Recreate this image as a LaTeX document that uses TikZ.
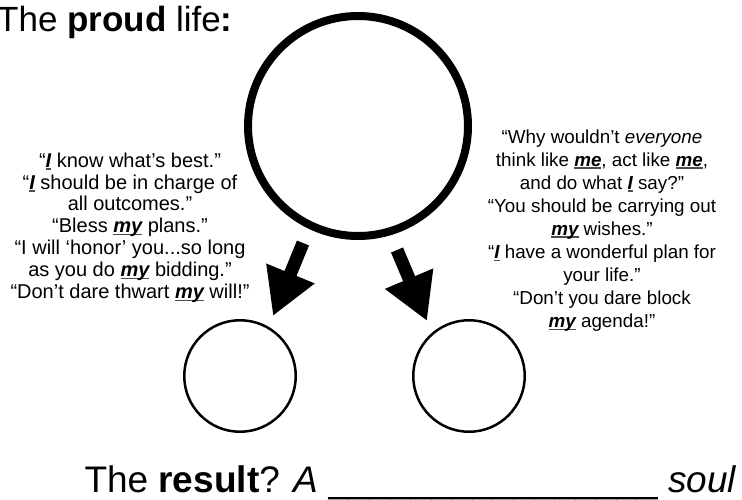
\documentclass[tikz,border=0pt]{standalone}
\usepackage{fontspec}
\setmainfont{Liberation Sans}
\usetikzlibrary{arrows.meta}
\newcommand{\selfw}[1]{\sbox0{\bfseries\itshape #1}\rlap{\color{black!70}\rule[-0.13em]{\wd0}{0.08em}}\usebox0}

\begin{document}
\begin{tikzpicture}[x=1pt, y=-1pt,
  ring/.style={draw=black, circle, inner sep=0pt, minimum size=#1},
  quote/.style={align=center, inner sep=0pt, anchor=north},
  push/.style={line width=13pt, -{Triangle[length=46pt, width=49pt]}}]
\useasboundingbox[fill=white] (0,0) rectangle (742,500);
\node[anchor=base west, inner sep=0pt, font=\fontsize{35}{40}\selectfont] (title) at (-3,32) {The \textbf{proud} life\textbf{:}};
\node[ring=220pt, line width=8pt] (proud) at (358,126) {};
\node[ring=111.5pt, line width=2.5pt] (lsoul) at (240,376) {};
\node[ring=111.5pt, line width=2.5pt] (rsoul) at (469,376) {};
\node[quote, font=\fontsize{20}{21.9}\selectfont] (lquote) at (130,152.5) {“\selfw{I} know what’s best.”\\
“\selfw{I} should be in charge of\\
all outcomes.”\\
“Bless \selfw{my} plans.”\\
“I will ‘honor’ you...so long\\
as you do \selfw{my} bidding.”\\
“Don’t dare thwart \selfw{my} will!”};
\node[quote, font=\fontsize{18.8}{23.1}\selectfont] (rquote) at (602,129.3) {“Why wouldn’t \textit{everyone}\\
think like \selfw{me}, act like \selfw{me},\\
and do what \selfw{I} say?”\\
“You should be carrying out\\
\selfw{my} wishes.”\\
“\selfw{I} have a wonderful plan for\\
your life.”\\
“Don’t you dare block\\
\selfw{my} agenda!”};
\coordinate (ltail) at (303,243);
\coordinate (ltip) at (273,316);
\coordinate (rtail) at (397,250);
\coordinate (rtip) at (427,321);
\draw[push] (ltail) -- (ltip);
\draw[push] (rtail) -- (rtip);
\node[anchor=base east, inner sep=0pt, font=\fontsize{37}{42}\selectfont] (result) at (737,492) {The \textbf{result}? \textit{A} \_\_\_\_\_\_\_\_\_\_\_\_\_\_\_\_ \textit{soul}};
\end{tikzpicture}
\end{document}
